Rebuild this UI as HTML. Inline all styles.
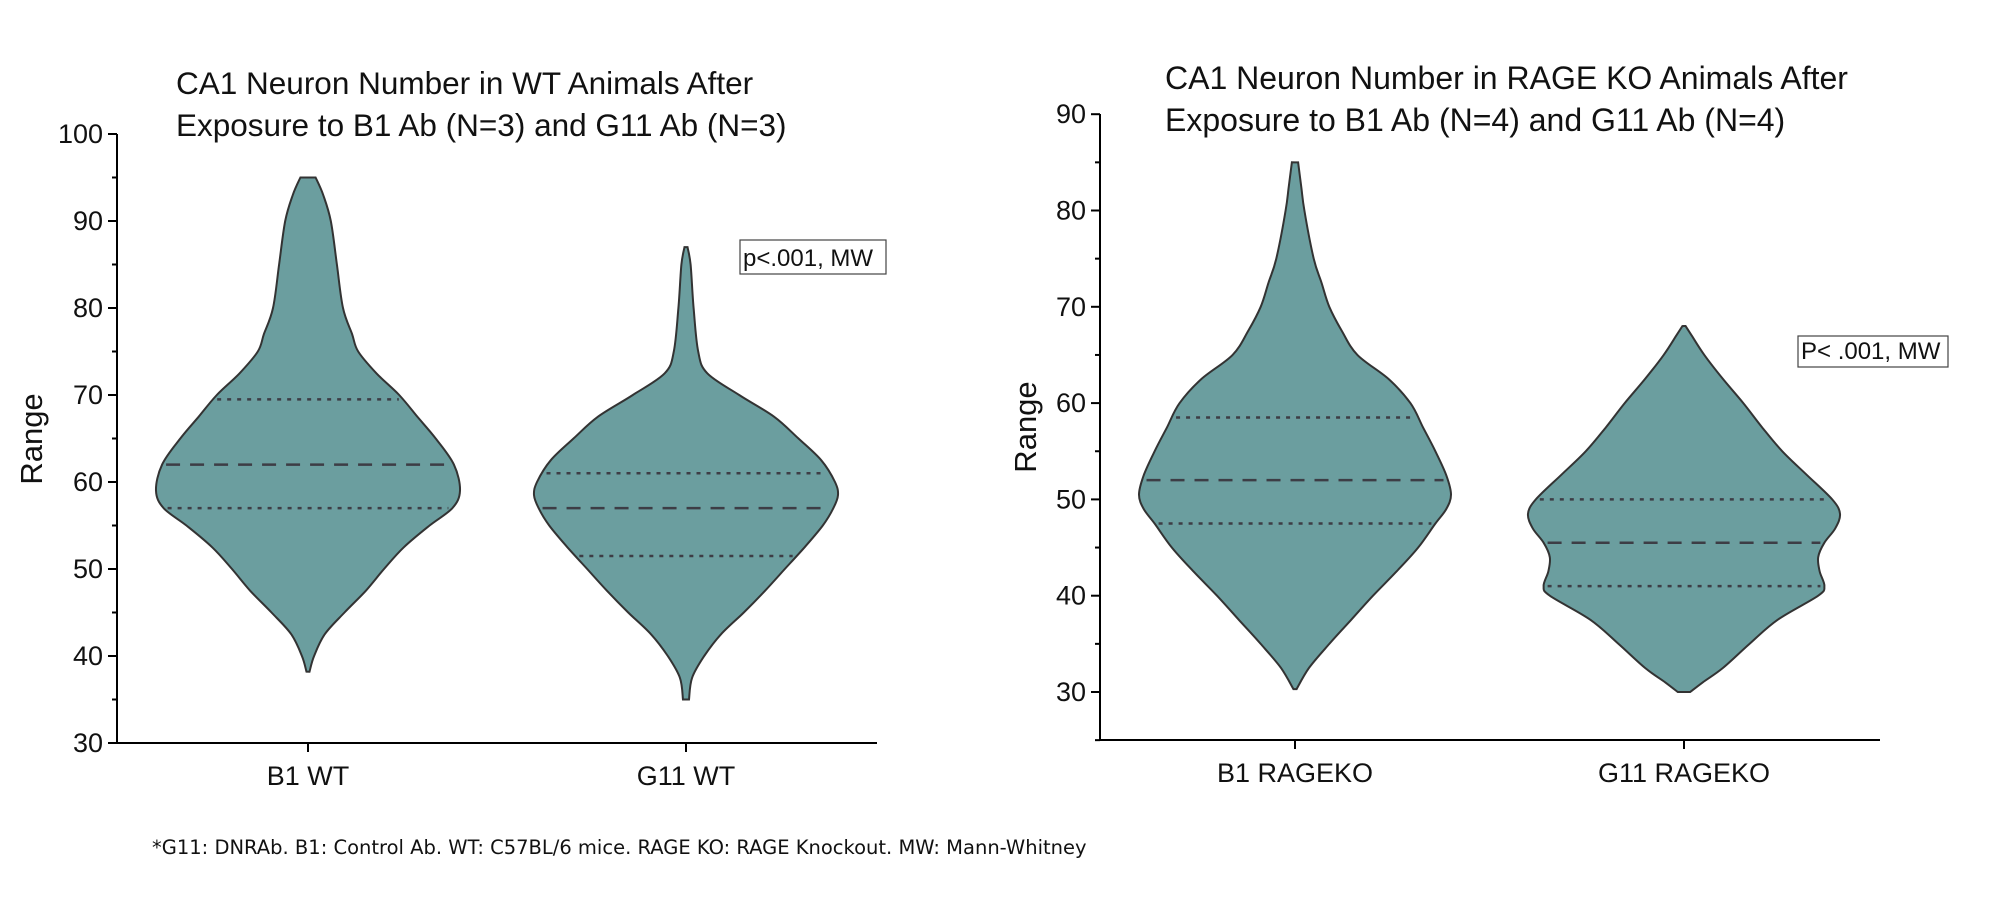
<!DOCTYPE html>
<html><head><meta charset="utf-8"><style>
body{margin:0;background:#fff;}
svg{display:block;font-family:"Liberation Sans",Arial,sans-serif;}
</style></head><body>
<svg id="c" width="2000" height="909" viewBox="0 0 2000 909">
<text x="152" y="854" font-size="19.5" fill="#111" font-family="DejaVu Sans, sans-serif">*G11: DNRAb. B1: Control Ab. WT: C57BL/6 mice. RAGE KO: RAGE Knockout. MW: Mann-Whitney</text>
</svg>
<script>
// ---- Left chart data ----
const leftCategories = ["B1 WT", "G11 WT"];
const leftTicks = [30, 40, 50, 60, 70, 80, 90, 100];
const b1wtLevels = [95, 93, 90, 85, 80, 77, 75, 72.5, 70, 67.5, 65, 62, 59, 57, 55, 52.5, 50, 47.5, 45, 42.5, 40, 38.2];
const b1wtWidths = [0.05, 0.1, 0.15, 0.19, 0.23, 0.29, 0.33, 0.45, 0.6, 0.72, 0.84, 0.96, 1.0, 0.95, 0.8, 0.63, 0.5, 0.38, 0.24, 0.11, 0.04, 0.01];
const b1wtQuartiles = [69.5, 62, 57];
const g11wtLevels = [87, 85, 80, 75, 72.5, 70, 67.5, 65, 62.5, 60, 58.5, 57, 55, 52.5, 50, 47.5, 45, 42.5, 40, 37.5, 35];
const g11wtWidths = [0.01, 0.03, 0.05, 0.08, 0.14, 0.35, 0.58, 0.74, 0.89, 0.98, 1.0, 0.97, 0.9, 0.78, 0.65, 0.52, 0.38, 0.23, 0.12, 0.04, 0.02];
const g11wtQuartiles = [61, 57, 51.5];
// ---- Right chart data ----
const rightCategories = ["B1 RAGEKO", "G11 RAGEKO"];
const rightTicks = [30, 40, 50, 60, 70, 80, 90];
const b1rkLevels = [85, 82.5, 80, 75, 72.5, 70, 67.5, 65, 62.5, 60, 57.5, 55, 52.5, 50.5, 49, 47.5, 45, 42.5, 40, 37.5, 35, 32.5, 30.3];
const b1rkWidths = [0.02, 0.04, 0.06, 0.12, 0.17, 0.22, 0.3, 0.4, 0.6, 0.74, 0.82, 0.9, 0.97, 1.0, 0.97, 0.9, 0.79, 0.65, 0.5, 0.36, 0.22, 0.09, 0.01];
const b1rkQuartiles = [58.5, 52, 47.5];
const g11rkLevels = [68, 67, 65, 62.5, 60, 57.5, 55, 52.5, 50, 48.5, 47, 45.5, 44, 42.5, 41, 40, 37.5, 35, 32.5, 31, 30];
const g11rkWidths = [0.01, 0.05, 0.13, 0.25, 0.38, 0.5, 0.63, 0.79, 0.95, 1.0, 0.97, 0.9, 0.86, 0.87, 0.9, 0.86, 0.6, 0.42, 0.25, 0.12, 0.04];
const g11rkQuartiles = [50, 45.5, 41];

const NS = "http://www.w3.org/2000/svg";
const svg = document.getElementById("c");
function mk(tag, attrs, parent) {
  const e = document.createElementNS(NS, tag);
  for (const k in attrs) e.setAttribute(k, attrs[k]);
  (parent || svg).appendChild(e);
  return e;
}
function smooth(pts) {
  let d = "";
  for (let i = 0; i < pts.length - 1; i++) {
    const p0 = pts[Math.max(0, i - 1)], p1 = pts[i], p2 = pts[i + 1], p3 = pts[Math.min(pts.length - 1, i + 2)];
    const c1 = [p1[0] + (p2[0] - p0[0]) / 6, p1[1] + (p2[1] - p0[1]) / 6];
    const c2 = [p2[0] - (p3[0] - p1[0]) / 6, p2[1] - (p3[1] - p1[1]) / 6];
    d += " C" + c1[0].toFixed(1) + "," + c1[1].toFixed(1) + " " + c2[0].toFixed(1) + "," + c2[1].toFixed(1) + " " + p2[0].toFixed(1) + "," + p2[1].toFixed(1);
  }
  return d;
}
function widthAt(levels, widths, v) {
  for (let i = 0; i < levels.length - 1; i++) {
    if (v <= levels[i] && v >= levels[i + 1]) {
      const t = (levels[i] - v) / (levels[i] - levels[i + 1]);
      return widths[i] + t * (widths[i + 1] - widths[i]);
    }
  }
  return 0;
}
function chart(cfg) {
  const g = mk("g", {});
  
  
  const y = v => cfg.y0 - (v - cfg.v0) * cfg.k;
  const x = i => cfg.centers[i];
  cfg.title.forEach((t, i) => {
    const tt = mk("text", {x: cfg.tx, y: cfg.ty + i * 42, "font-size": cfg.tfs, fill: "#111"}, g);
    
    
    tt.textContent = t;
  });
  cfg.violins.forEach((vl, i) => {
    const cx = x(i);
    const right = vl.levels.map((v, j) => [cx + vl.widths[j] * cfg.hw, y(v)]);
    const left = vl.levels.map((v, j) => [cx - vl.widths[j] * cfg.hw, y(v)]).reverse();
    let d = "M" + cx + "," + y(vl.levels[0]) + " L" + right[0][0] + "," + right[0][1] + smooth(right);
    d += " L" + left[0][0] + "," + left[0][1] + smooth(left) + " Z";
    const p = mk("path", {d: d, fill: "#6b9e9f", stroke: "#333", "stroke-width": 2}, g);
    
    
    vl.quart.forEach((q, j) => {
      const w = widthAt(vl.levels, vl.widths, q) * cfg.hw - 4;
      const ln = mk("line", {x1: cx - w, x2: cx + w, y1: y(q), y2: y(q), stroke: "#3d3d45", "stroke-width": 2.5,
        "stroke-dasharray": j === 1 ? "14,10" : "4,6"}, g);
      
      
    });
  });
  const ax = mk("path", {d: "M" + cfg.ax + "," + cfg.axTop + " V" + cfg.axBottom + " H" + cfg.axRight, fill: "none", stroke: "#000", "stroke-width": 2}, g);
  
  
  for (let v = cfg.minorStart; v <= cfg.ticks[cfg.ticks.length - 1]; v += 5) {
    const major = cfg.ticks.indexOf(v) >= 0;
    const t = mk("line", {x1: cfg.ax - (major ? 9 : 5), x2: cfg.ax, y1: y(v), y2: y(v), stroke: "#000", "stroke-width": 2}, g);
    
    
  }
  cfg.ticks.forEach(v => {
    const t = mk("text", {x: cfg.ax - 14, y: y(v) + 9, "font-size": 27, "text-anchor": "end", fill: "#111"}, g);
    
    
    t.textContent = v;
  });
  cfg.categories.forEach((c, i) => {
    const tk = mk("line", {x1: x(i), x2: x(i), y1: cfg.axBottom, y2: cfg.axBottom + 9, stroke: "#000", "stroke-width": 2}, g);
    
    
    const t = mk("text", {x: x(i), y: cfg.axBottom + 42, "font-size": 27, "text-anchor": "middle", fill: "#111"}, g);
    
    
    t.textContent = c;
  });
  const yl = mk("text", {x: cfg.rx, y: cfg.ry, "font-size": 31, "text-anchor": "middle", fill: "#111", transform: "rotate(-90 " + cfg.rx + " " + cfg.ry + ")"}, g);
  
  
  yl.textContent = "Range";
  const bx = mk("rect", {x: cfg.box[0], y: cfg.box[1], width: cfg.box[2], height: cfg.box[3], fill: "#fff", stroke: "#444", "stroke-width": 1.2}, g);
  
  
  const bt = mk("text", {x: cfg.box[0] + 3, y: cfg.box[1] + cfg.box[3] - 8, "font-size": 24, fill: "#111"}, g);
  
  
  bt.textContent = cfg.boxText;
}
chart({name: "wt-chart", y0: 482, v0: 60, k: 8.7, centers: [308, 686], hw: 152,
  title: ["CA1 Neuron Number in WT Animals After", "Exposure to B1 Ab (N=3) and G11 Ab (N=3)"], tx: 176, ty: 94, tfs: 31.5,
  categories: leftCategories, ticks: leftTicks, minorStart: 30,
  violins: [{levels: b1wtLevels, widths: b1wtWidths, quart: b1wtQuartiles}, {levels: g11wtLevels, widths: g11wtWidths, quart: g11wtQuartiles}],
  ax: 117, axTop: 134, axBottom: 743, axRight: 877, rx: 42, ry: 439,
  box: [740, 240, 146, 34], boxText: "p<.001, MW"});
chart({name: "rage-ko-chart", y0: 692, v0: 30, k: 9.63, centers: [1295, 1684], hw: 156,
  title: ["CA1 Neuron Number in RAGE KO Animals After", "Exposure to B1 Ab (N=4) and G11 Ab (N=4)"], tx: 1165, ty: 89, tfs: 32,
  categories: rightCategories, ticks: rightTicks, minorStart: 25,
  violins: [{levels: b1rkLevels, widths: b1rkWidths, quart: b1rkQuartiles}, {levels: g11rkLevels, widths: g11rkWidths, quart: g11rkQuartiles}],
  ax: 1100, axTop: 114, axBottom: 740, axRight: 1880, rx: 1036, ry: 427,
  box: [1798, 336, 150, 31], boxText: "P< .001, MW"});
</script>
</body></html>
